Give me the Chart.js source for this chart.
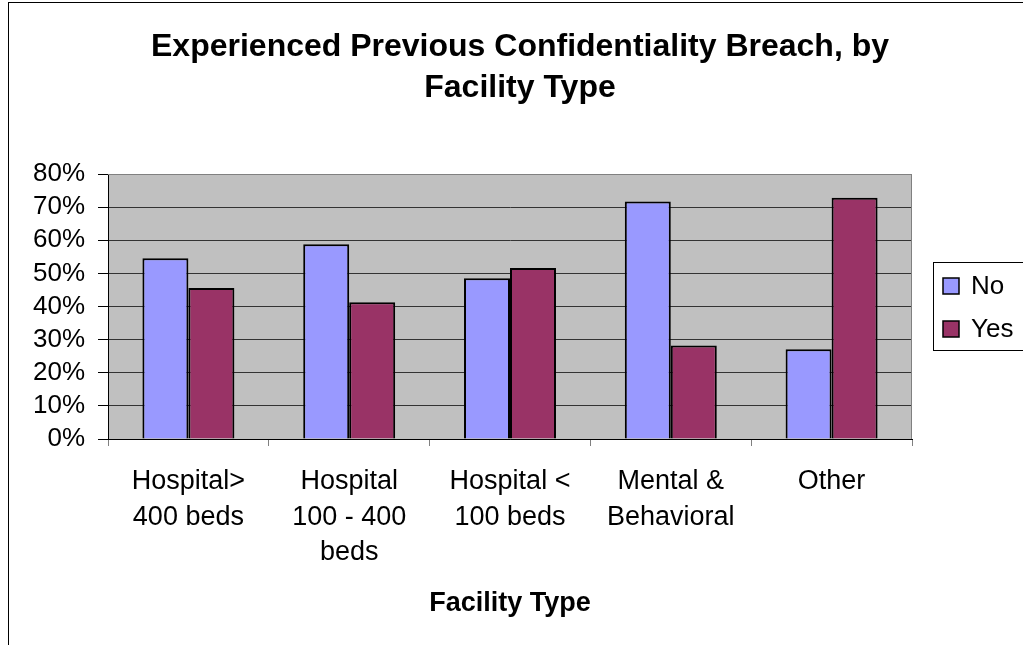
<!DOCTYPE html>
<html lang="en">
<head>
  <meta charset="UTF-8" />
  <title>Confidentiality Breach by Facility Type</title>
  <script src="https://cdn.jsdelivr.net/npm/chart.js"></script>
  <style>
    html, body { margin: 0; padding: 0; background: #fff; }
    #wrap { width: 1023px; height: 645px; position: relative; }
  </style>
</head>
<body>
  <div id="wrap"><canvas id="breachChart" width="1023" height="645"></canvas></div>

  <script>
    // chart data (percent)
    const categories = [
      ['Hospital>', '400 beds'],
      ['Hospital', '100 - 400', 'beds'],
      ['Hospital <', '100 beds'],
      ['Mental &', 'Behavioral'],
      ['Other']
    ];
    const noValues  = [54.6, 58.8, 48.5, 71.7, 27.1];
    const yesValues = [45.6, 41.3, 51.6, 28.2, 72.8];
    const yTicks = [0, 10, 20, 30, 40, 50, 60, 70, 80];

    const titleLines = ['Experienced Previous Confidentiality Breach, by', 'Facility Type'];
    const FONT = 'Arial, "Liberation Sans", sans-serif';

    // frame, plot background, title and legend (excel style)
    const decor = {
      id: 'decor',
      beforeDraw(chart) {
        const ctx = chart.ctx, a = chart.chartArea;
        ctx.save();
        ctx.fillStyle = '#fff';
        ctx.fillRect(0, 0, chart.width, chart.height);
        ctx.strokeStyle = '#000';
        ctx.lineWidth = 1;
        ctx.strokeRect(8.5, 2.5, chart.width + 50, chart.height + 50);
        ctx.fillStyle = '#c0c0c0';
        ctx.fillRect(a.left, a.top, a.right - a.left, a.bottom - a.top);
        ctx.restore();
      },
      afterDatasetsDraw(chart) {
        const ctx = chart.ctx, a = chart.chartArea;
        ctx.save();
        ctx.strokeStyle = '#808080';
        ctx.lineWidth = 1;
        ctx.beginPath();
        ctx.moveTo(a.left, a.top + 0.5);
        ctx.lineTo(a.right - 0.5, a.top + 0.5);
        ctx.lineTo(a.right - 0.5, a.bottom);
        ctx.stroke();
        ctx.restore();
      },
      afterDraw(chart) {
        const ctx = chart.ctx;
        ctx.save();
        // title
        ctx.fillStyle = '#000';
        ctx.textAlign = 'center';
        ctx.textBaseline = 'middle';
        ctx.font = 'bold 32px ' + FONT;
        titleLines.forEach((t, i) => ctx.fillText(t, 520, 47 + i * 41));

        // legend
        ctx.strokeStyle = '#000';
        ctx.lineWidth = 1;
        ctx.strokeRect(933.5, 262.5, 120, 88);
        ctx.font = '26px ' + FONT;
        ctx.textAlign = 'left';
        chart.data.datasets.forEach((ds, i) => {
          const y = 286 + i * 43;
          ctx.fillStyle = ds.backgroundColor;
          ctx.fillRect(943, y - 8, 16, 16);
          ctx.lineWidth = 1.5;
          ctx.strokeRect(943, y - 8, 16, 16);
          ctx.fillStyle = '#000';
          ctx.fillText(ds.label, 971, y + 1);
        });
        ctx.restore();
      }
    };

    const ctx = document.getElementById('breachChart').getContext('2d');
    const chart = new Chart(ctx, {
      type: 'bar',
      data: {
        labels: categories,
        datasets: [
          { label: 'No', data: noValues, backgroundColor: '#9999ff', borderColor: '#000', borderWidth: 2 },
          { label: 'Yes', data: yesValues, backgroundColor: '#993366', borderColor: '#000', borderWidth: 2 }
        ]
      },
      options: {
        responsive: false,
        animation: false,
        devicePixelRatio: 1,
        layout: { padding: { left: 0, right: 111, top: 174, bottom: 0 } },
        datasets: { bar: { categoryPercentage: 0.572, barPercentage: 1.0 } },
        plugins: {
          legend: { display: false },
          title: { display: false },
          tooltip: { enabled: false }
        },
        scales: {
          x: {
            offset: true,
            border: { color: '#000', width: 1 },
            grid: { offset: true, drawOnChartArea: false, drawTicks: true, tickLength: 7, tickColor: '#808080' },
            ticks: {
              color: '#000', maxRotation: 0, autoSkip: false, padding: 18,
              font: { family: FONT, size: 27, lineHeight: 1.31 }
            },
            title: {
              display: true, text: 'Facility Type', color: '#000',
              font: { family: FONT, size: 27, weight: 'bold' },
              padding: { top: 0, bottom: 25 }
            },
            afterFit(scale) { scale.height = 206; }
          },
          y: {
            min: 0, max: 80,
            border: { color: '#000', width: 1 },
            grid: {
              color: (c) => c.tick && c.tick.value === 80 ? '#808080' : '#333',
              lineWidth: 1, tickLength: 10, tickColor: '#000'
            },
            afterBuildTicks(scale) { scale.ticks = yTicks.map(v => ({ value: v })); },
            ticks: {
              color: '#000', padding: 13, autoSkip: false,
              font: { family: FONT, size: 26 },
              callback: (v) => v + '%'
            },
            afterFit(scale) { scale.width = 108; }
          }
        }
      },
      plugins: [decor]
    });
  </script>
</body>
</html>
